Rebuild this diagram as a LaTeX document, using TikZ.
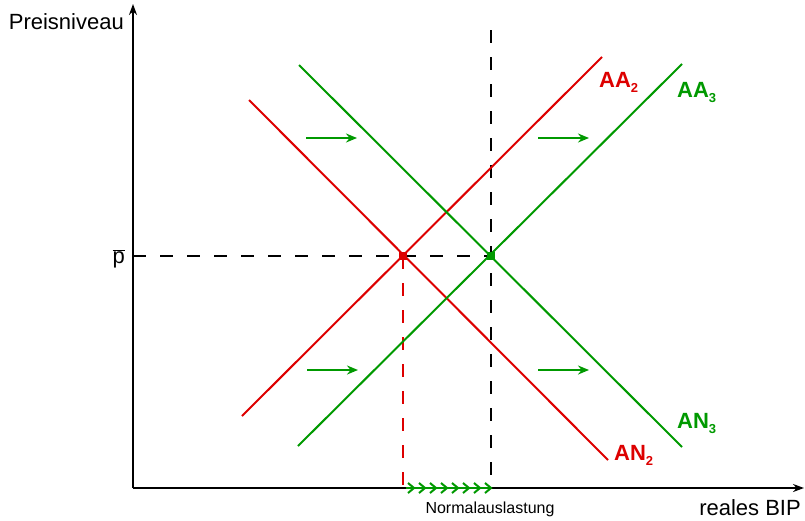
\documentclass[tikz,border=0pt]{standalone}
\usepackage{fontspec}
\setmainfont{Liberation Sans}
\usetikzlibrary{arrows.meta}
\definecolor{curvered}{HTML}{DD0000}
\definecolor{curvegreen}{HTML}{009900}
\newcommand{\lowsub}[1]{\raisebox{-5pt}{\fontsize{13}{15}\selectfont #1}}

\begin{document}
\begin{tikzpicture}[x=1pt,y=-1pt,
axis/.style={-{Stealth[length=11pt,width=8pt]},line width=2pt},
redline/.style={line width=2pt,color=curvered},
greenline/.style={line width=2pt,color=curvegreen},
shiftarr/.style={-{Stealth[length=11pt,width=9pt]},line width=2pt,color=curvegreen},
chevron/.style={line width=2pt,color=curvegreen},
guide/.style={dash pattern=on 13pt off 14pt,line width=1.8pt},
dot/.style={fill,minimum size=8pt,inner sep=0pt},
curvelabel/.style={font=\fontsize{22}{26}\selectfont\bfseries,inner sep=0pt},
axislabel/.style={font=\fontsize{22}{26}\selectfont,inner sep=0pt}
]
\useasboundingbox (0,0) rectangle (805,520);
% axes
\coordinate (O) at (133,488);
\coordinate (ytop) at (133,4);
\coordinate (xend) at (804,488);
\draw[axis] (O)--(ytop);
\draw[axis] (O)--(xend);
\node[axislabel,anchor=base east] (ylab) at (124,29) {Preisniveau};
\node[axislabel,anchor=base east] (xlab) at (801,515) {reales BIP};
\node[axislabel,anchor=base east] (pbar) at (125,263) {$\overline{\mbox{p}}$};
% curves
\coordinate (aa2s) at (242,416);
\coordinate (aa2e) at (602,57);
\coordinate (an2s) at (249,100);
\coordinate (an2e) at (608,460);
\coordinate (aa3s) at (298,446);
\coordinate (aa3e) at (682,64);
\coordinate (an3s) at (299,65);
\coordinate (an3e) at (682,447);
\coordinate (E2) at (403,256);
\coordinate (E3) at (491,256);
\coordinate (pleft) at (133,256);
\coordinate (foot2) at (403,488);
\coordinate (foot3) at (491,488);
\coordinate (top3) at (491,30);
% guides
\draw[guide] (pleft)--(E3);
\draw[guide] (top3)--(foot3);
\draw[guide,color=curvered] (E2)--(foot2);
\draw[redline] (aa2s)--(aa2e);
\draw[redline] (an2s)--(an2e);
\draw[greenline] (aa3s)--(aa3e);
\draw[greenline] (an3s)--(an3e);
\node[dot,fill=curvered] (m2) at (E2) {};
\node[dot,fill=curvegreen] (m3) at (E3) {};
% shifts
\coordinate (s1a) at (306,138); \coordinate (s1b) at (357,138);
\coordinate (s2a) at (538,138); \coordinate (s2b) at (589,138);
\coordinate (s3a) at (307,370); \coordinate (s3b) at (358,370);
\coordinate (s4a) at (538,370); \coordinate (s4b) at (589,370);
\draw[shiftarr] (s1a)--(s1b);
\draw[shiftarr] (s2a)--(s2b);
\draw[shiftarr] (s3a)--(s3b);
\draw[shiftarr] (s4a)--(s4b);
\coordinate (chs) at (406,488);
\draw[chevron] (chs)--(foot3);
\foreach \k in {0,...,7}
  \draw[chevron,shift={(chs)}] (2+11*\k,-5)--++(6,5)--++(-6,5);
\node[font=\fontsize{16}{19}\selectfont,inner sep=0pt,anchor=base] (normal) at (490,513) {Normalauslastung};
% labels
\node[curvelabel,text=curvered,anchor=base west] (laa2) at (599,87) {AA\lowsub{2}};
\node[curvelabel,text=curvegreen,anchor=base west] (laa3) at (677,97) {AA\lowsub{3}};
\node[curvelabel,text=curvered,anchor=base west] (lan2) at (614,460) {AN\lowsub{2}};
\node[curvelabel,text=curvegreen,anchor=base west] (lan3) at (677,428) {AN\lowsub{3}};
\end{tikzpicture}
\end{document}
